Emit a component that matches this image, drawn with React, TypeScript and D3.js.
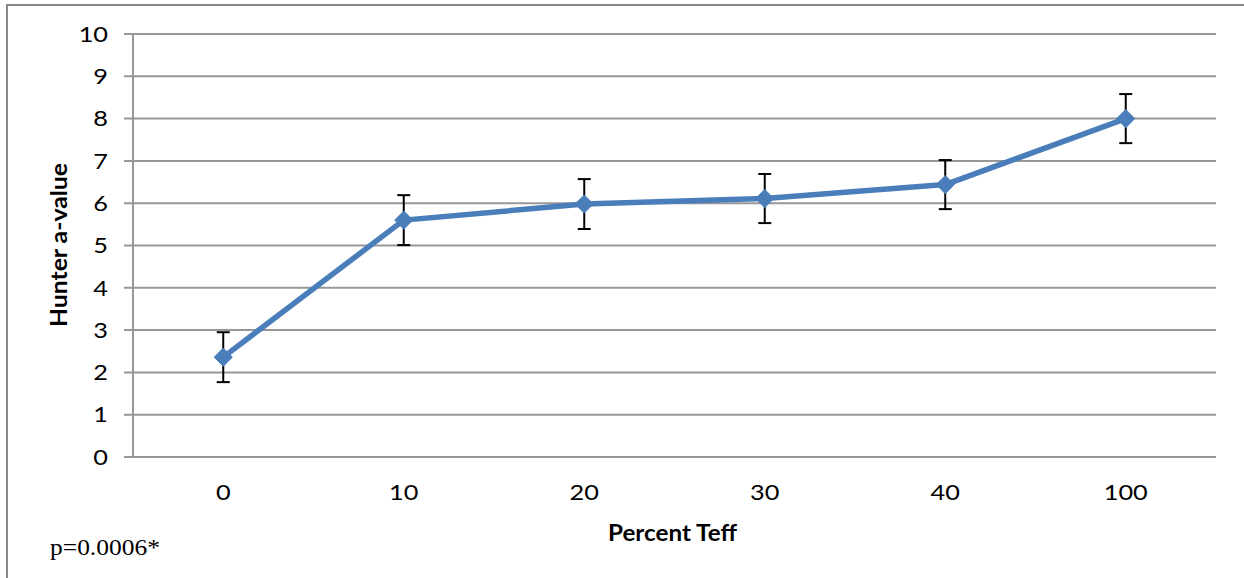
import React from "react";
import * as d3 from "d3";

const categories = ["0", "10", "20", "30", "40", "100"];
const values = [2.36, 5.6, 5.98, 6.11, 6.44, 8.0];
const errors = [0.59, 0.59, 0.59, 0.58, 0.58, 0.58];
const yTicks = [0, 1, 2, 3, 4, 5, 6, 7, 8, 9, 10];

const W = 1244;
const H = 578;
const left = 133;
const right = 1216;
const top = 34;
const bottom = 457;
const SX = 1.15;

export default function App() {
  const x = d3.scaleBand<string>().domain(categories).range([left, right]).padding(0);
  const y = d3.scaleLinear().domain([0, 10]).range([bottom, top]);
  const cx = (c: string) => (x(c) as number) + x.bandwidth() / 2;
  const pts = categories.map((c, i) => ({ c, v: values[i], e: errors[i] }));
  const line = d3
    .line<{ c: string; v: number }>()
    .x((d) => cx(d.c))
    .y((d) => y(d.v));
  const diamond = d3.symbol().type(d3.symbolDiamond2).size(210)();
  const font = "Lato, 'Open Sans', sans-serif";

  return (
    <svg
      width={W}
      height={H}
      style={{ position: "absolute", left: 0, top: 0, background: "#fff" }}
    >
      <rect x={7} y={5} width={W + 20} height={H + 20} fill="#fff" stroke="#888" strokeWidth={2} />
      {yTicks.map((t) => (
        <g key={t}>
          <line x1={124} x2={right} y1={y(t)} y2={y(t)} stroke="#979797" strokeWidth={2} />
          <text
            transform={`translate(108,${y(t)}) scale(${SX},1)`}
            dy="0.35em"
            textAnchor="end"
            fontFamily={font}
            fontSize={22}
            fill="#000"
          >
            {t}
          </text>
        </g>
      ))}
      <line x1={left} x2={left} y1={top} y2={bottom} stroke="#979797" strokeWidth={2} />
      {categories.map((c) => (
        <text
          key={c}
          transform={`translate(${cx(c)},500) scale(${SX},1)`}
          textAnchor="middle"
          fontFamily={font}
          fontSize={22}
          fill="#000"
        >
          {c}
        </text>
      ))}
      <path d={line(pts) || ""} fill="none" stroke="#4a7ebb" strokeWidth={5.5} strokeLinejoin="round" />
      {pts.map((p) => (
        <g key={p.c}>
          <line x1={cx(p.c)} x2={cx(p.c)} y1={y(p.v + p.e)} y2={y(p.v - p.e)} stroke="#000" strokeWidth={2} />
          <line x1={cx(p.c) - 6.5} x2={cx(p.c) + 6.5} y1={y(p.v + p.e)} y2={y(p.v + p.e)} stroke="#000" strokeWidth={2} />
          <line x1={cx(p.c) - 6.5} x2={cx(p.c) + 6.5} y1={y(p.v - p.e)} y2={y(p.v - p.e)} stroke="#000" strokeWidth={2} />
          <path d={diamond || ""} transform={`translate(${cx(p.c)},${y(p.v)})`} fill="#4a7ebb" stroke="#4a7ebb" strokeWidth={1} />
        </g>
      ))}
      <text
        transform={`translate(67,245) rotate(-90)`}
        textAnchor="middle"
        fontFamily={font}
        fontWeight="bold"
        fontSize={23}
        textLength={164}
        lengthAdjust="spacingAndGlyphs"
        fill="#000"
      >
        Hunter a-value
      </text>
      <text
        x={672.5}
        y={541}
        textAnchor="middle"
        fontFamily={font}
        fontWeight="bold"
        fontSize={23}
        textLength={129}
        lengthAdjust="spacingAndGlyphs"
        fill="#000"
      >
        Percent Teff
      </text>
      <text
        x={50}
        y={555}
        fontFamily="'Liberation Serif', 'DejaVu Serif', serif"
        fontSize={23}
        textLength={110}
        lengthAdjust="spacingAndGlyphs"
        fill="#000"
      >
        p=0.0006*
      </text>
    </svg>
  );
}
